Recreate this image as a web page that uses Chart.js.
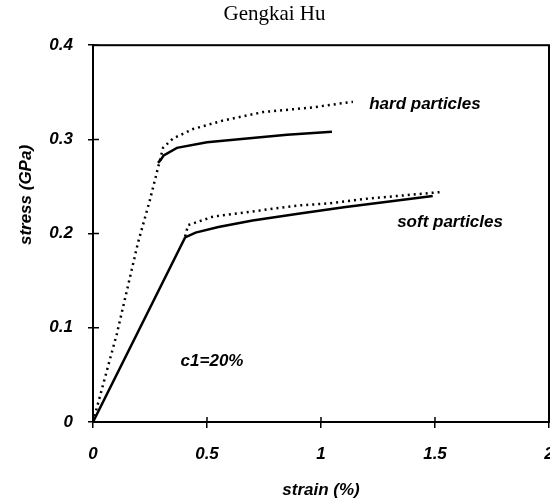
<!DOCTYPE html>
<html>
<head>
<meta charset="utf-8">
<script src="https://cdn.jsdelivr.net/npm/chart.js@4.4.0/dist/chart.umd.min.js"></script>
<style>
  html, body { margin: 0; padding: 0; background: #fff; }
  #wrap { width: 550px; height: 503px; }
</style>
</head>
<body>
<div id="wrap"><canvas id="c"></canvas></div>
<script>
// values (strain in %, stress in GPa)
const hardModelStrain = [0, 0.105, 0.197, 0.25, 0.307, 0.351, 0.439, 0.57, 0.746, 0.965, 1.14];
const hardModelStress = [0, 0.094, 0.19, 0.236, 0.291, 0.301, 0.311, 0.32, 0.329, 0.334, 0.34];
const hardFemStrain = [0.285, 0.296, 0.31, 0.368, 0.5, 0.675, 0.851, 1.048];
const hardFemStress = [0.275, 0.278, 0.283, 0.291, 0.297, 0.301, 0.305, 0.308];
const softModelStrain = [0.404, 0.417, 0.526, 0.746, 0.908, 1.03, 1.2, 1.52];
const softModelStress = [0.197, 0.209, 0.218, 0.225, 0.23, 0.232, 0.237, 0.244];
const softFemStrain = [0, 0.404, 0.45, 0.55, 0.7, 0.9, 1.1, 1.3, 1.49];
const softFemStress = [0, 0.196, 0.201, 0.207, 0.214, 0.221, 0.228, 0.234, 0.24];

const xTicks = [0, 0.5, 1, 1.5, 2];
const yTicks = [0, 0.1, 0.2, 0.3, 0.4];

const notes = [
  { text: "hard particles", x: 1.456, y: 0.337 },
  { text: "soft particles", x: 1.566, y: 0.212 },
  { text: "c1=20%", x: 0.522, y: 0.064 }
];

const FONT = "Liberation Sans, Arial, sans-serif";

const toPoints = (xs, ys) => xs.map((x, i) => ({ x: x, y: ys[i] }));

// box around the plot, ticks crossing the axes, notes and the y title
const framePlugin = {
  id: "frame",
  afterDraw(chart) {
    const { ctx, chartArea: a, scales } = chart;
    ctx.save();
    ctx.strokeStyle = "#000";
    ctx.lineWidth = 2;
    ctx.strokeRect(a.left, a.top, a.right - a.left, a.bottom - a.top);

    ctx.lineWidth = 1.5;
    ctx.beginPath();
    xTicks.forEach(v => {
      const px = scales.x.getPixelForValue(v);
      ctx.moveTo(px, a.bottom - 5);
      ctx.lineTo(px, a.bottom);
    });
    yTicks.forEach(v => {
      const py = scales.y.getPixelForValue(v);
      ctx.moveTo(a.left, py);
      ctx.lineTo(a.left + 6, py);
    });
    ctx.stroke();

    ctx.fillStyle = "#000";
    ctx.font = "italic bold 17px " + FONT;
    ctx.textAlign = "center";
    ctx.textBaseline = "middle";
    notes.forEach(n => {
      ctx.fillText(n.text, scales.x.getPixelForValue(n.x), scales.y.getPixelForValue(n.y));
    });

    ctx.translate(26, 195);
    ctx.rotate(-Math.PI / 2);
    ctx.fillText("stress (GPa)", 0, 0);
    ctx.restore();
  }
};

const lineSet = (data, dotted) => ({
  data: data,
  showLine: true,
  borderColor: "#000",
  borderWidth: 2.5,
  borderDash: dotted ? [2, 4] : [],
  pointRadius: 0,
  fill: false
});

new Chart(document.getElementById("c"), {
  type: "scatter",
  data: {
    datasets: [
      lineSet(toPoints(hardModelStrain, hardModelStress), true),
      lineSet(toPoints(hardFemStrain, hardFemStress), false),
      lineSet(toPoints(softModelStrain, softModelStress), true),
      lineSet(toPoints(softFemStrain, softFemStress), false)
    ]
  },
  options: {
    responsive: true,
    maintainAspectRatio: false,
    animation: false,
    layout: { padding: { left: 0, right: 1, top: 0, bottom: 0 } },
    plugins: {
      legend: { display: false },
      tooltip: { enabled: false },
      title: {
        display: true,
        text: "Gengkai Hu",
        color: "#000",
        font: { family: "Liberation Serif", size: 21, weight: "normal" },
        padding: { top: 2, bottom: 18 }
      }
    },
    scales: {
      x: {
        type: "linear",
        min: 0,
        max: 2,
        afterBuildTicks: s => { s.ticks = xTicks.map(v => ({ value: v })); },
        afterFit: s => { s.height = 81; s.paddingLeft = 0; s.paddingRight = 0; },
        grid: { drawOnChartArea: false, tickLength: 6, tickColor: "#000", lineWidth: 1.5 },
        border: { display: true, color: "#000", width: 2 },
        ticks: {
          color: "#000",
          padding: 16,
          maxRotation: 0,
          callback: v => String(v),
          font: { family: FONT, size: 17, style: "italic", weight: "bold" }
        },
        title: {
          display: true,
          text: "strain (%)",
          color: "#000",
          font: { family: FONT, size: 17, style: "italic", weight: "bold" },
          padding: { top: 0, bottom: 2 }
        }
      },
      y: {
        type: "linear",
        min: 0,
        max: 0.4,
        afterBuildTicks: s => { s.ticks = yTicks.map(v => ({ value: v })); },
        afterFit: s => { s.width = 93; },
        grid: { drawOnChartArea: false, tickLength: 5, tickColor: "#000", lineWidth: 1.5 },
        border: { display: true, color: "#000", width: 2 },
        ticks: {
          color: "#000",
          padding: 15,
          callback: v => String(v),
          font: { family: FONT, size: 17, style: "italic", weight: "bold" }
        }
      }
    }
  },
  plugins: [framePlugin]
});
</script>
</body>
</html>
